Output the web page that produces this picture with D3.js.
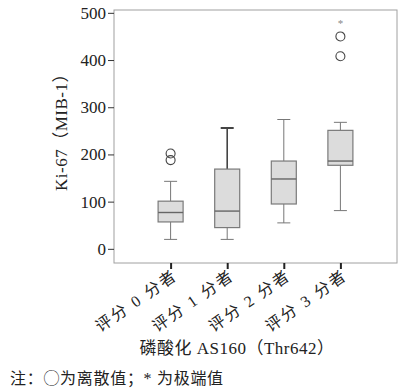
<!DOCTYPE html>
<html lang="zh">
	<head>
		<meta charset="UTF-8">
		<title>Ki-67 箱线图</title>
		<style>
			body, html {
				margin: 0;
				background-color: #ffffff;
			}
			text {
				font-family: "Liberation Serif", "Noto Sans CJK SC", serif;
				fill: #222;
			}
		</style>
	</head>
	<body>
		<svg id="svg" width="411" height="390"></svg>

		<script src="https://d3js.org/d3.v7.min.js"></script>
		<script>
			const categories = ['评分 0 分者', '评分 1 分者', '评分 2 分者', '评分 3 分者']
			const whiskerLow = [20, 20, 55, 81]
			const q1 = [57, 45, 95, 177]
			const median = [77, 80, 148, 186]
			const q3 = [101, 169, 186, 251]
			const whiskerHigh = [143, 256, 274, 268]
			const outliers = [[188, 202], [], [], [408, 450]]
			const extremes = [[], [], [], [481]]
			const yTicks = [0, 100, 200, 300, 400, 500]

			const margin = { left: 114, top: 10 }
			const width = 283
			const height = 253

			const svg = d3.select('#svg')
			const g = svg.append('g').attr('transform', `translate(${margin.left},${margin.top})`)

			const x = d3.scalePoint().domain(categories).range([0, width]).padding(1)
			const y = d3.scaleLinear().domain([-30, 506]).range([height, 0])

			const data = categories.map((c, i) => ({
				c, lo: whiskerLow[i], q1: q1[i], med: median[i], q3: q3[i], hi: whiskerHigh[i],
				out: outliers[i], ext: extremes[i]
			}))

			// frame
			g.append('rect')
				.attr('width', width).attr('height', height)
				.attr('fill', 'none').attr('stroke', '#a0a0a0').attr('stroke-width', 1)

			// axes
			const yAxis = g.append('g')
				.call(d3.axisLeft(y).tickValues(yTicks).tickSize(6).tickPadding(2))
			yAxis.select('.domain').remove()
			yAxis.selectAll('line').attr('stroke', '#333')
			yAxis.selectAll('text').style('font-size', '17px').attr('fill', '#222')

			const xAxis = g.append('g')
				.attr('transform', `translate(0,${height})`)
				.call(d3.axisBottom(x).tickSize(6).tickPadding(6))
			xAxis.select('.domain').remove()
			xAxis.selectAll('line').attr('stroke', '#222').attr('stroke-width', 2)
			xAxis.selectAll('text')
				.style('font-size', '16px')
				.style('letter-spacing', '2.2px')
				.attr('fill', '#222')
				.attr('text-anchor', 'end')
				.attr('dy', '0.3em')
				.attr('transform', 'translate(-2,1) rotate(-35)')

			const boxW = 25
			const capW = 13
			const boxes = g.selectAll('.box').data(data).enter().append('g')
				.attr('transform', d => `translate(${x(d.c)},0)`)

			// whiskers
			boxes.append('line')
				.attr('y1', d => y(d.lo)).attr('y2', d => y(d.q1))
				.attr('stroke', '#777')
			boxes.append('line')
				.attr('y1', d => y(d.q3)).attr('y2', d => y(d.hi))
				.attr('stroke', (d, i) => i === 1 ? '#444' : '#777')
				.attr('stroke-width', (d, i) => i === 1 ? 1.6 : 1)
			boxes.append('line')
				.attr('x1', -capW / 2).attr('x2', capW / 2)
				.attr('y1', d => y(d.lo)).attr('y2', d => y(d.lo))
				.attr('stroke', '#777')
			boxes.append('line')
				.attr('x1', -capW / 2).attr('x2', capW / 2)
				.attr('y1', d => y(d.hi)).attr('y2', d => y(d.hi))
				.attr('stroke', (d, i) => i === 1 ? '#444' : '#777')
				.attr('stroke-width', (d, i) => i === 1 ? 2 : 1)

			// box
			boxes.append('rect')
				.attr('x', -boxW / 2).attr('width', boxW)
				.attr('y', d => y(d.q3)).attr('height', d => y(d.q1) - y(d.q3))
				.attr('fill', '#dcdcdc').attr('stroke', '#7a7a7a').attr('stroke-width', 1.2)
			boxes.append('line')
				.attr('x1', -boxW / 2).attr('x2', boxW / 2)
				.attr('y1', d => y(d.med)).attr('y2', d => y(d.med))
				.attr('stroke', '#666').attr('stroke-width', 1.4)

			// outliers
			boxes.selectAll('circle').data(d => d.out).enter().append('circle')
				.attr('cy', v => y(v)).attr('r', 4.5)
				.attr('fill', 'none').attr('stroke', '#444').attr('stroke-width', 1.1)
			boxes.selectAll('.ext').data(d => d.ext).enter().append('text')
				.attr('class', 'ext')
				.attr('y', v => y(v) + 5)
				.attr('text-anchor', 'middle')
				.style('font-size', '11px').style('fill', '#888')
				.text('*')

			// titles
			svg.append('text')
				.attr('transform', 'translate(67,128) rotate(-90)')
				.attr('text-anchor', 'middle')
				.style('font-size', '17px')
				.style('letter-spacing', '0.5px')
				.text('Ki-67（MIB-1）')

			svg.append('text')
				.attr('x', 237).attr('y', 354)
				.attr('text-anchor', 'middle')
				.style('font-size', '17px')
				.style('letter-spacing', '0.5px')
				.text('磷酸化 AS160（Thr642）')

			svg.append('text')
				.attr('x', 10).attr('y', 384)
				.style('font-size', '16px')
				.style('letter-spacing', '0.7px')
				.text('注：◯为离散值；* 为极端值')
		</script>
	</body>
</html>
